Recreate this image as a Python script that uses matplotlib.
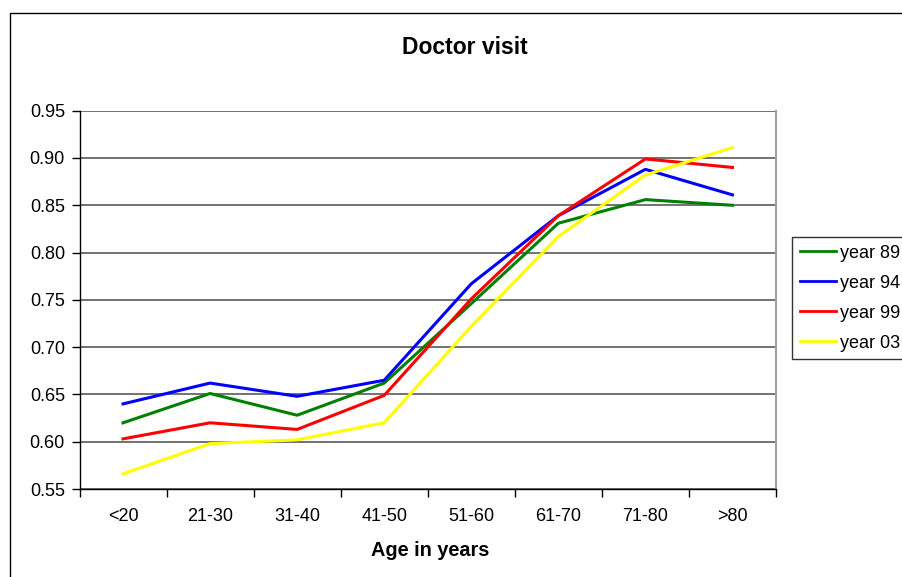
import numpy as np
import matplotlib
matplotlib.use('Agg')
import matplotlib.pyplot as plt
import matplotlib.patches as mpatches

#%% Data: share of people visiting a doctor, by age group and survey year
ageGroups = ['<20', '21-30', '31-40', '41-50', '51-60', '61-70', '71-80', '>80']
year89 = [0.620, 0.651, 0.628, 0.662, 0.746, 0.831, 0.856, 0.850]
year94 = [0.640, 0.662, 0.648, 0.665, 0.767, 0.839, 0.888, 0.861]
year99 = [0.603, 0.620, 0.613, 0.649, 0.751, 0.839, 0.899, 0.890]
year03 = [0.566, 0.598, 0.602, 0.620, 0.722, 0.817, 0.882, 0.911]
seriesNames = ['year 89', 'year 94', 'year 99', 'year 03']
yTicks = [0.55, 0.60, 0.65, 0.70, 0.75, 0.80, 0.85, 0.90, 0.95]

plt.rcParams['font.family'] = ['Liberation Sans', 'DejaVu Sans']

W, H = 902, 577
fig = plt.figure(figsize=(W/100., H/100.), dpi=100)
fig.patch.set_facecolor('white')

# chart area border (runs off the right and bottom edges)
fig.patches.append(mpatches.Rectangle((10./W, -0.5), 2.0, 1 - 13./H + 0.5,
                                      transform=fig.transFigure, fill=False,
                                      edgecolor='black', linewidth=1.0))

ax = fig.add_axes([79.5/W, 1 - 489./H, (776 - 79.5)/W, (489 - 110.7)/H])
x = np.arange(len(ageGroups))

colors = ['#008000', '#0000FF', '#FF0000', '#FFFF00']
for vals, name, col in zip([year89, year94, year99, year03], seriesNames, colors):
    ax.plot(x, vals, color=col, linewidth=2.2, label=name, zorder=3)

ax.set_xlim(-0.5, len(ageGroups) - 0.5)
ax.set_ylim(0.55, 0.95)
ax.set_yticks(yTicks)
ax.set_yticklabels(['%.2f' % v for v in yTicks])
ax.yaxis.grid(True, color='#5a5a5a', linewidth=1.2)
ax.set_axisbelow(True)

# category labels at centres, tick marks at the boundaries
ax.set_xticks(x)
ax.set_xticklabels(ageGroups)
ax.set_xticks(np.arange(-0.5, len(ageGroups)), minor=True)
ax.tick_params(axis='x', which='major', length=0, pad=14, labelsize=13)
ax.tick_params(axis='x', which='minor', length=6, width=1, color='black', direction='out')
ax.tick_params(axis='y', length=5.5, width=1, color='black', direction='out', pad=5, labelsize=13)

for side in ['left', 'bottom']:
    ax.spines[side].set_color('black')
    ax.spines[side].set_linewidth(1.0)
ax.spines['top'].set_visible(False)
ax.spines['right'].set_color('#a0a0a0')
ax.spines['right'].set_linewidth(1.5)

fig.text(465./W, 1 - 47./H, 'Doctor visit', ha='center', va='center',
         fontsize=16.5, fontweight='bold')
fig.text(430./W, 1 - 551./H, 'Age in years', ha='center', va='center',
         fontsize=14.3, fontweight='bold')

leg = fig.legend(loc='upper left', bbox_to_anchor=(792./W, 1 - 237./H),
                 borderaxespad=0, fontsize=13, handlelength=2.0,
                 handletextpad=0.25, labelspacing=0.72, borderpad=0.42,
                 fancybox=False, frameon=True)
leg.get_frame().set_edgecolor('black')
leg.get_frame().set_linewidth(1.0)
for line in leg.get_lines():
    line.set_linewidth(2.0)

fig.savefig('out.png', dpi=100)
